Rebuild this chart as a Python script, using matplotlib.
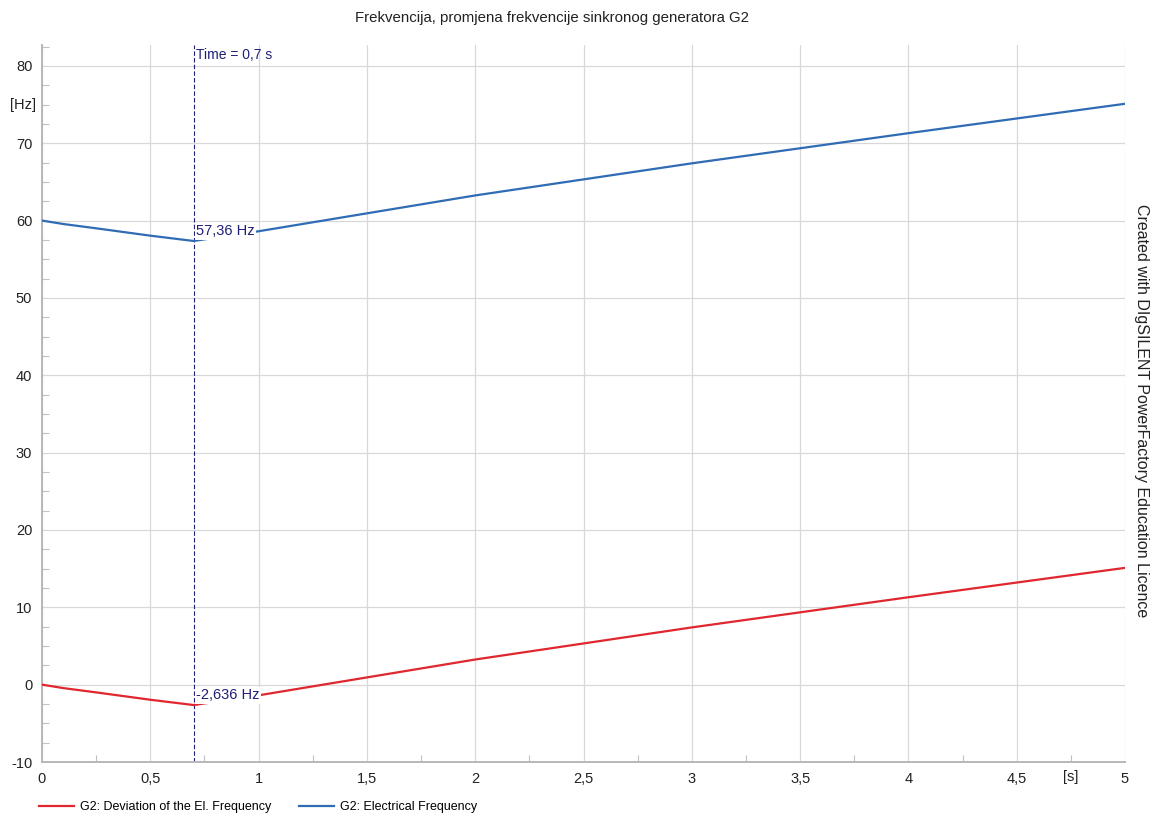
import numpy as np
import matplotlib
matplotlib.use("Agg")
from matplotlib import pyplot as plt
from matplotlib.ticker import MultipleLocator, FixedLocator

plt.rcParams['font.family'] = ['Liberation Sans', 'DejaVu Sans']
plt.rcParams['axes.unicode_minus'] = False

# time axis [s] and read-off values
t = [0, 0.1, 0.25, 0.5, 0.7, 1.0, 2.0, 3.0, 4.0, 5.0]
freq = [60.0, 59.55, 59.0, 58.05, 57.36, 58.62, 63.25, 67.4, 71.3, 75.1]          # G2: Electrical Frequency [Hz]
dev = [0.0, -0.45, -1.0, -1.95, -2.636, -1.38, 3.25, 7.4, 11.3, 15.1]            # G2: Deviation of the El. Frequency [Hz]

x_ticks = [0, 0.5, 1, 1.5, 2, 2.5, 3, 3.5, 4, 4.5, 5]
x_labels = ["0", "0,5", "1", "1,5", "2", "2,5", "3", "3,5", "4", "4,5", "5"]
y_ticks = [-10, 0, 10, 20, 30, 40, 50, 60, 70, 80]

t_cursor = 0.7
cursor_freq = "57,36 Hz"
cursor_dev = "-2,636 Hz"

red = '#e0262e'
blue = '#2f6cb4'
navy = '#1f1f78'
grid_c = '#d8d8d8'

fig = plt.figure(figsize=(11.52, 8.16), dpi=100)
ax = fig.add_axes([42/1152, 1-762/816, (1125-42)/1152, (762-45)/816])

ax.plot(t, dev, color=red, lw=1.6, zorder=3, label="G2: Deviation of the El. Frequency")
ax.plot(t, freq, color=blue, lw=1.6, zorder=3, label="G2: Electrical Frequency")

ax.set_xlim(0, 5)
ax.set_ylim(-10, 82.7)

ax.xaxis.set_major_locator(FixedLocator(x_ticks))
ax.set_xticklabels(x_labels)
ax.xaxis.set_minor_locator(MultipleLocator(0.25))
ax.yaxis.set_major_locator(FixedLocator(y_ticks))
ax.yaxis.set_minor_locator(MultipleLocator(2.5))

ax.grid(True, which='major', color=grid_c, lw=0.9, zorder=0)
ax.tick_params(which='major', length=0, labelsize=10.5, colors='#222222', pad=7)
ax.tick_params(which='minor', direction='in', length=5, color='#c0c0c0', width=0.8)

for s in ['top', 'right']:
    ax.spines[s].set_visible(False)
for s in ['left', 'bottom']:
    ax.spines[s].set_color('#b8b8b8')
    ax.spines[s].set_linewidth(1.4)

# units
ax.text(-0.09, 75, "[Hz]", ha='center', va='center', fontsize=10.5, color='#222222', clip_on=False)
ax.annotate("[s]", xy=(4.75, -10), xytext=(0, -5.5), textcoords='offset points',
            ha='center', va='top', fontsize=10.5, color='#222222')

# cursor
ax.axvline(t_cursor, color=navy, lw=0.8, ls=(0, (4, 2)), zorder=2)
ax.annotate("Time = 0,7 s", xy=(t_cursor, 82.7), xytext=(2, -2), textcoords='offset points',
            ha='left', va='top', fontsize=10, color=navy)
ax.annotate(cursor_freq, xy=(t_cursor, freq[4]), xytext=(2, 2), textcoords='offset points',
            ha='left', va='bottom', fontsize=10.5, color=navy, zorder=4,
            bbox=dict(boxstyle='square,pad=0.1', fc='white', ec='none'))
ax.annotate(cursor_dev, xy=(t_cursor, dev[4]), xytext=(2, 2), textcoords='offset points',
            ha='left', va='bottom', fontsize=10.5, color=navy, zorder=4,
            bbox=dict(boxstyle='square,pad=0.1', fc='white', ec='none'))

fig.text(552/1152, 1-18/816, "Frekvencija, promjena frekvencije sinkronog generatora G2",
         ha='center', va='center', fontsize=10.8, color='#222222')
fig.text(1141/1152, 1-411/816, "Created with DIgSILENT PowerFactory Education Licence",
         ha='center', va='center', rotation=-90, fontsize=11.5, color='#222222')

fig.legend(loc='center left', bbox_to_anchor=(28/1152, 1-807/816), ncol=2, frameon=False,
           fontsize=9, handlelength=2.8, handletextpad=0.5, columnspacing=2.2)

fig.savefig("out.png", dpi=100)
